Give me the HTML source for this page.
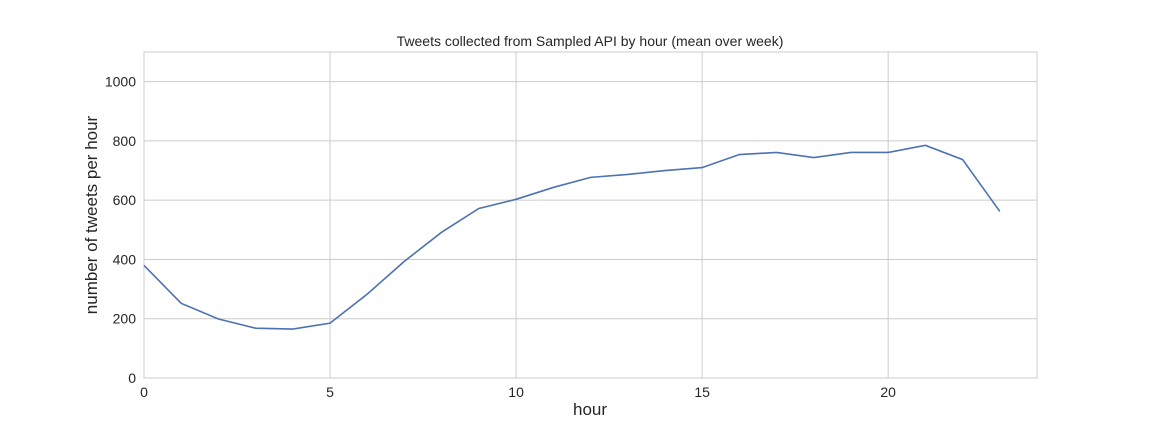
<!DOCTYPE html>
<html><head><meta charset="utf-8"><style>
body{margin:0;background:#fff;width:1152px;height:432px;overflow:hidden;font-family:"Liberation Sans",Arial,sans-serif}
</style></head><body>
<svg width="1152" height="432" id="svg" xmlns="http://www.w3.org/2000/svg">
<text x="590" y="46" text-anchor="middle" font-size="14" fill="#262626">Tweets collected from Sampled API by hour (mean over week)</text>
<rect x="144" y="52" width="893" height="326" fill="#fff" stroke="#ccc"/>
<g id="grid"></g><g id="ticks"></g>
<text x="590" y="415" text-anchor="middle" font-size="17" fill="#262626">hour</text>
<text transform="translate(97,215) rotate(-90)" text-anchor="middle" font-size="17" fill="#262626">number of tweets per hour</text>
<path id="line" fill="none" stroke="#4c72b0" stroke-width="1.6"/>
</svg>
<script>
const hours=[0,1,2,3,4,5,6,7,8,9,10,11,12,13,14,15,16,17,18,19,20,21,22,23];
const tweets=[380,252,199,168,165,185,283,394,492,572,603,643,677,687,700,710,754,761,744,761,761,785,737,562];
const xTicks=[0,5,10,15,20];
const yTicks=[0,200,400,600,800,1000];
const X0=144,X1=1037,Y0=378,Y1=52,XMAX=24,YMAX=1100;
const sx=v=>X0+(X1-X0)*v/XMAX, sy=v=>Y0-(Y0-Y1)*v/YMAX;
const NS='http://www.w3.org/2000/svg';
const g=document.getElementById('grid'),t=document.getElementById('ticks');
function mk(tag,attrs,parent,txt){const e=document.createElementNS(NS,tag);for(const k in attrs)e.setAttribute(k,attrs[k]);if(txt!=null)e.textContent=txt;parent.appendChild(e);return e;}
xTicks.forEach(v=>{
 const l=mk('line',{x1:sx(v),x2:sx(v),y1:Y1,y2:Y0,stroke:'#ccc'},g);
 
 
 const s=mk('text',{x:sx(v),y:Y0+19,'text-anchor':'middle','font-size':14,fill:'#262626'},t,v);
 
 
});
yTicks.forEach(v=>{
 const l=mk('line',{x1:X0,x2:X1,y1:sy(v),y2:sy(v),stroke:'#ccc'},g);
 
 
 const s=mk('text',{x:X0-8,y:sy(v)+5,'text-anchor':'end','font-size':14,fill:'#262626'},t,v);
 
 
});
document.getElementById('line').setAttribute('d',hours.map((h,i)=>(i?'L':'M')+sx(h)+','+sy(tweets[i])).join(''));
</script>
</body></html>
